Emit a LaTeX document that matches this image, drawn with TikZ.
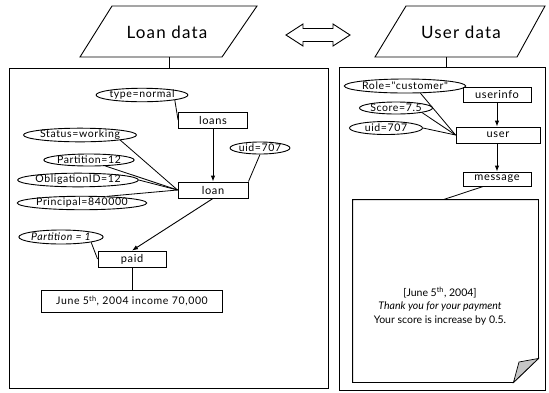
\documentclass[tikz,border=0pt]{standalone}
\usepackage{fontspec}
\setmainfont{Lato}
\newfontfamily\titlefont[LetterSpace=7]{Lato}
\newfontfamily\labelfont[LetterSpace=6]{Lato}
\usetikzlibrary{shapes.geometric,arrows.meta,calc}

\begin{document}
\begin{tikzpicture}[x=1pt,y=-1pt,line width=0.9pt,
  attr/.style={draw,ellipse,inner sep=0pt,font=\labelfont\fontsize{10.5}{10.5}\selectfont},
  ent/.style={draw,rectangle,inner sep=0pt,font=\labelfont\fontsize{11}{11}\selectfont},
  panel/.style={draw,rectangle,inner sep=0pt,line width=1pt},
  link/.style={line width=0.8pt},
  flow/.style={line width=0.9pt,-{Latex[length=6pt,width=4.5pt]}},
  title/.style={font=\titlefont\fontsize{17}{17}\selectfont}]
\useasboundingbox (0,0) rectangle (549,392);

% data sources
\draw (80,57) -- (222,57) -- (257,6) -- (112,6) -- cycle;
\node[title] (loantitle) at (167,32) {Loan data};
\coordinate (loanbot) at (169,57);
\draw (375,57) -- (517,57) -- (545,6) -- (406,6) -- cycle;
\node[title] (usertitle) at (461,32) {User data};
\coordinate (userbot) at (446,57);

% exchange between the two sources
\draw[fill=white] (286,35) -- (303,24) -- (303,28.5) -- (333,28.5) -- (333,24)
  -- (350,35) -- (333,46) -- (333,41.5) -- (303,41.5) -- (303,46) -- cycle;

% panels
\node[panel,minimum width=319,minimum height=320] (lpanel) at (168.5,228) {};
\node[panel,minimum width=206,minimum height=323] (rpanel) at (442,228.5) {};
\draw (loanbot) -- (loanbot |- lpanel.north);
\draw (userbot) -- (userbot |- rpanel.north);

% loan side
\node[attr,minimum width=77,minimum height=13] (typen) at (142,95) {type=normal};
\node[ent,minimum width=69,minimum height=16] (loans) at (213,120) {loans};
\node[attr,minimum width=56,minimum height=12] (uidl) at (260,148) {uid=707};
\node[ent,minimum width=70,minimum height=16] (loan) at (213,190) {loan};
\node[attr,minimum width=100,minimum height=11] (status) at (80,135) {Status=working};
\node[attr,minimum width=76,minimum height=12] (part) at (89,160) {Partition=12};
\node[attr,minimum width=106,minimum height=12] (oblig) at (78,180) {ObligationID=12};
\node[attr,minimum width=114,minimum height=12] (princ) at (82,203) {Principal=840000};
\node[attr,minimum width=74,minimum height=14,font=\labelfont\fontsize{10.5}{10.5}\selectfont\itshape] (partone) at (61,237) {Partition = 1};
\node[ent,minimum width=68,minimum height=16] (paid) at (132,259) {paid};
\node[ent,minimum width=181,minimum height=22,font=\labelfont\fontsize{10.5}{10.5}\selectfont] (income) at (132,301) {June 5\textsuperscript{th}, 2004 income 70,000};

\draw[link] (typen.south east) -- (loans.west);
\draw[flow] (loans.south) -- (loan.north);
\draw[link] (uidl.south) -- (loan.north east);
\draw[link] (status.south east) -- (loan.west);
\draw[link] (part.-20) -- (loan.west);
\draw[link] (oblig.east) -- (loan.west);
\draw[link] (princ.15) -- (loan.west);
\draw[flow] (loan.south) -- (paid.north);
\draw[link] (partone.south east) -- (paid.west);
\draw[link] (paid.south) -- (income.north);

% user side
\node[attr,minimum width=104,minimum height=14] (role) at (405,86) {Role="customer"};
\node[attr,minimum width=73,minimum height=12] (score) at (396,108) {Score=7.5};
\node[attr,minimum width=73,minimum height=13] (uidr) at (386,128) {uid=707};
\node[ent,minimum width=68,minimum height=15] (userinfo) at (497,94.5) {userinfo};
\node[ent,minimum width=84,minimum height=16] (user) at (498,135) {user};
\node[ent,minimum width=68,minimum height=14] (message) at (497,179) {message};
\node[minimum width=185,minimum height=182,inner sep=0pt] (note) at (445.5,291) {};

\draw[link] (role.-25) -- (user.west);
\draw[link] (score.-10) -- (user.west);
\draw[link] (uidr.east) -- (user.west);
\draw[flow] (userinfo.south) -- (userinfo.south |- user.north);
\draw[flow] (user.south -| message.south) -- (message.north);

% message sheet with a curled corner
\draw (note.north west) -- (note.north east) -- ($(note.south east)+(0,-24)$)
  -- ($(note.south east)+(-25,0)$) -- (note.south west) -- cycle;
\draw[fill=gray!45,line width=0.7pt] ($(note.south east)+(0,-24)$)
  .. controls (529,360) .. (519,362) -- ($(note.south east)+(-25,0)$) -- cycle;
\draw[link] ($(message.south west)!0.3!(message.south east)$) -- ($(note.north)+(-2,0)$);
\node[align=center,font=\fontsize{10.5}{13.5}\selectfont] (notetext) at (440,306)
  {[June 5\textsuperscript{th}, 2004]\\ \textit{Thank you for your payment}\\ Your score is increase by 0.5.};
\end{tikzpicture}
\end{document}
